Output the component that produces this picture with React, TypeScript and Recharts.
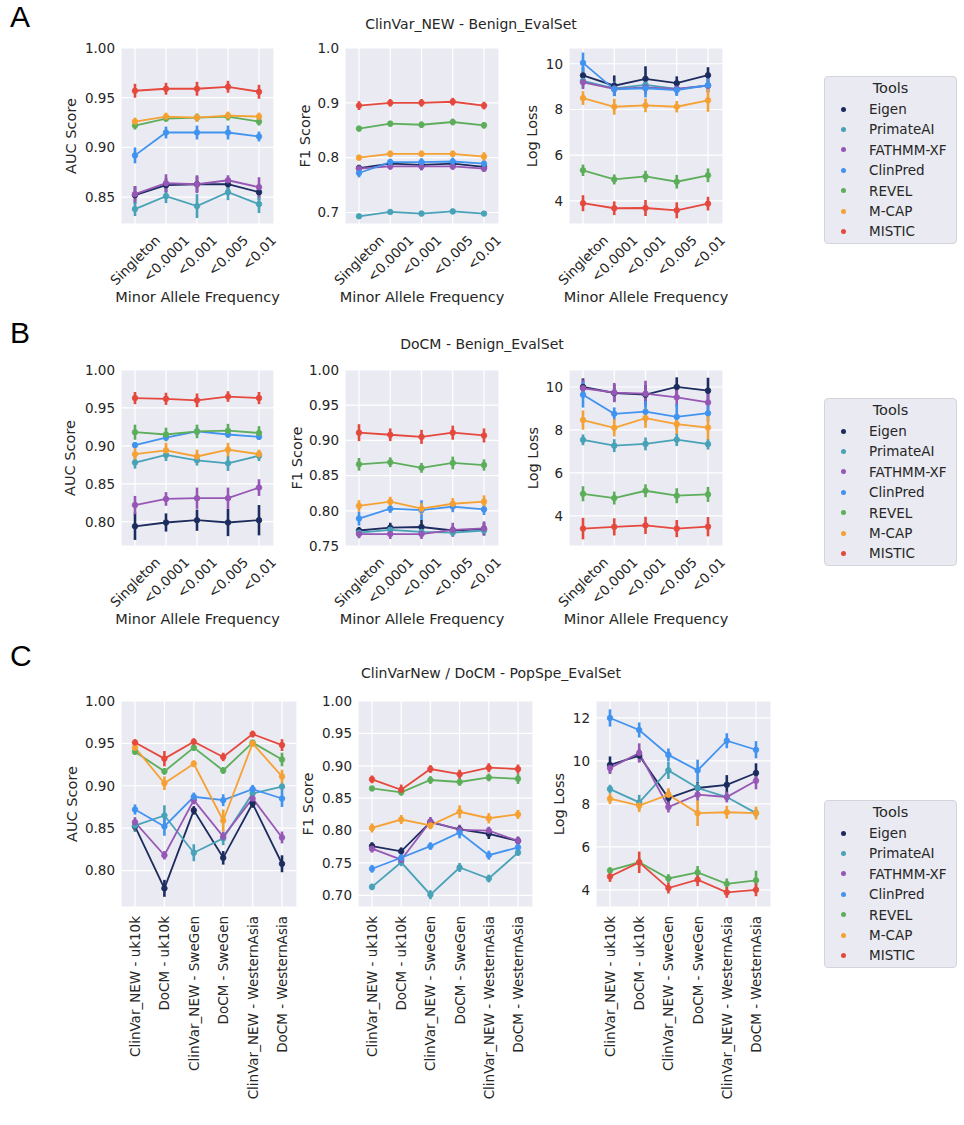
import React from 'react';
import { LineChart, Line, XAxis, YAxis, CartesianGrid, ErrorBar } from 'recharts';

const tools = ['Eigen', 'PrimateAI', 'FATHMM-XF', 'ClinPred', 'REVEL', 'M-CAP', 'MISTIC'];
const toolColors = ['#1d2c5e', '#48a2b8', '#9657b5', '#4193f0', '#5dae5b', '#f5a133', '#e5493d'];

const mafLabels = ['Singleton', '<0.0001', '<0.001', '<0.005', '<0.01'];
const popLabels = [
  'ClinVar_NEW - uk10k',
  'DoCM - uk10k',
  'ClinVar_NEW - SweGen',
  'DoCM - SweGen',
  'ClinVar_NEW - WesternAsia',
  'DoCM - WesternAsia',
];

// every table below: one row per tool, in the `tools` order
const clinvarAuc = [
  [0.852, 0.862, 0.863, 0.863, 0.855],
  [0.838, 0.851, 0.841, 0.855, 0.843],
  [0.853, 0.864, 0.863, 0.867, 0.86],
  [0.892, 0.915, 0.915, 0.915, 0.911],
  [0.922, 0.929, 0.93, 0.931, 0.926],
  [0.926, 0.931, 0.93, 0.932, 0.931],
  [0.957, 0.959, 0.959, 0.961, 0.956],
];
const clinvarAucErr = [
  [0.009, 0.007, 0.008, 0.006, 0.008],
  [0.007, 0.007, 0.012, 0.008, 0.009],
  [0.008, 0.009, 0.009, 0.005, 0.01],
  [0.008, 0.006, 0.007, 0.007, 0.005],
  [0.004, 0.003, 0.004, 0.004, 0.004],
  [0.004, 0.004, 0.004, 0.004, 0.004],
  [0.007, 0.006, 0.007, 0.006, 0.007],
];
const clinvarF1 = [
  [0.781, 0.789, 0.787, 0.789, 0.783],
  [0.693, 0.701, 0.698, 0.702, 0.698],
  [0.78, 0.784, 0.784, 0.784, 0.78],
  [0.772, 0.792, 0.792, 0.793, 0.789],
  [0.853, 0.862, 0.86, 0.865, 0.859],
  [0.8, 0.807, 0.807, 0.807, 0.802],
  [0.895, 0.9, 0.9, 0.902, 0.895],
];
const clinvarF1Err = [
  [0.006, 0.008, 0.01, 0.006, 0.008],
  [0.004, 0.004, 0.005, 0.004, 0.004],
  [0.006, 0.006, 0.006, 0.006, 0.006],
  [0.008, 0.006, 0.007, 0.007, 0.006],
  [0.005, 0.005, 0.006, 0.006, 0.006],
  [0.005, 0.006, 0.006, 0.006, 0.008],
  [0.008, 0.007, 0.007, 0.007, 0.007],
];
const clinvarLoss = [
  [9.49, 9.04, 9.34, 9.15, 9.5],
  [9.25, 8.92, 9.08, 8.9, 9.05],
  [9.19, 8.9, 8.97, 8.9, 9.04],
  [10.04, 8.88, 8.93, 8.85, 9.06],
  [5.34, 4.94, 5.07, 4.84, 5.12],
  [8.5, 8.12, 8.18, 8.12, 8.4],
  [3.9, 3.68, 3.69, 3.59, 3.88],
];
const clinvarLossErr = [
  [0.35, 0.45, 0.55, 0.3, 0.35],
  [0.3, 0.3, 0.3, 0.3, 0.3],
  [0.3, 0.3, 0.3, 0.25, 0.3],
  [0.45, 0.3, 0.4, 0.25, 0.3],
  [0.25, 0.22, 0.25, 0.3, 0.3],
  [0.3, 0.35, 0.3, 0.25, 0.5],
  [0.35, 0.3, 0.35, 0.35, 0.3],
];

const docmAuc = [
  [0.794, 0.799, 0.802, 0.799, 0.802],
  [0.878, 0.888, 0.881, 0.877, 0.887],
  [0.822, 0.83, 0.831, 0.831, 0.845],
  [0.901, 0.911, 0.919, 0.915, 0.912],
  [0.918, 0.915, 0.919, 0.92, 0.917],
  [0.889, 0.894, 0.886, 0.895, 0.889],
  [0.963, 0.962, 0.96, 0.965, 0.963],
];
const docmAucErr = [
  [0.018, 0.012, 0.014, 0.018, 0.02],
  [0.008, 0.008, 0.007, 0.01, 0.007],
  [0.012, 0.009, 0.014, 0.014, 0.011],
  [0.004, 0.004, 0.005, 0.004, 0.004],
  [0.01, 0.009, 0.009, 0.009, 0.009],
  [0.008, 0.01, 0.009, 0.009, 0.006],
  [0.008, 0.008, 0.009, 0.007, 0.008],
];
const docmF1 = [
  [0.772, 0.776, 0.777, 0.772, 0.774],
  [0.769, 0.773, 0.77, 0.769, 0.772],
  [0.767, 0.767, 0.767, 0.773, 0.775],
  [0.789, 0.803, 0.801, 0.806, 0.802],
  [0.866, 0.869, 0.861, 0.868, 0.865],
  [0.807, 0.813, 0.803, 0.81, 0.813],
  [0.911, 0.908, 0.905, 0.911, 0.907],
];
const docmF1Err = [
  [0.005, 0.007, 0.01, 0.006, 0.009],
  [0.004, 0.004, 0.004, 0.004, 0.004],
  [0.006, 0.007, 0.007, 0.01, 0.01],
  [0.01, 0.006, 0.014, 0.008, 0.008],
  [0.009, 0.007, 0.007, 0.009, 0.008],
  [0.008, 0.007, 0.008, 0.008, 0.009],
  [0.012, 0.009, 0.01, 0.01, 0.01],
];
const docmLoss = [
  [10.0, 9.72, 9.64, 10.0, 9.83],
  [7.54, 7.27, 7.35, 7.55, 7.34],
  [9.94, 9.74, 9.69, 9.52, 9.28],
  [9.64, 8.75, 8.85, 8.61, 8.78],
  [5.03, 4.83, 5.17, 4.94, 5.0],
  [8.46, 8.1, 8.55, 8.27, 8.11],
  [3.41, 3.49, 3.56, 3.41, 3.5],
];
const docmLossErr = [
  [0.4, 0.4, 0.45, 0.45, 0.6],
  [0.25, 0.3, 0.3, 0.3, 0.25],
  [0.4, 0.45, 0.6, 0.45, 0.4],
  [0.6, 0.3, 0.5, 0.6, 0.4],
  [0.35, 0.3, 0.3, 0.35, 0.35],
  [0.45, 0.4, 0.45, 0.45, 0.55],
  [0.5, 0.4, 0.4, 0.4, 0.45],
];

const popAuc = [
  [0.852, 0.779, 0.871, 0.815, 0.879, 0.808],
  [0.853, 0.865, 0.821, 0.838, 0.891, 0.899],
  [0.857, 0.818, 0.883, 0.84, 0.885, 0.839],
  [0.872, 0.852, 0.887, 0.883, 0.896, 0.885],
  [0.94, 0.917, 0.945, 0.918, 0.951, 0.931],
  [0.945, 0.903, 0.926, 0.859, 0.95, 0.911],
  [0.951, 0.932, 0.952, 0.934, 0.961, 0.948],
];
const popAucErr = [
  [0.006, 0.01, 0.005, 0.008, 0.005, 0.01],
  [0.006, 0.012, 0.01, 0.008, 0.004, 0.004],
  [0.006, 0.005, 0.005, 0.005, 0.004, 0.007],
  [0.006, 0.011, 0.005, 0.007, 0.005, 0.01],
  [0.003, 0.004, 0.004, 0.004, 0.003, 0.008],
  [0.004, 0.008, 0.004, 0.013, 0.004, 0.008],
  [0.004, 0.009, 0.004, 0.005, 0.004, 0.007],
];
const popF1 = [
  [0.776, 0.768, 0.813, 0.802, 0.795, 0.784],
  [0.713, 0.751, 0.701, 0.743, 0.726, 0.766],
  [0.772, 0.755, 0.814, 0.801, 0.8, 0.784],
  [0.741, 0.758, 0.776, 0.797, 0.762, 0.774],
  [0.865, 0.859, 0.878, 0.875, 0.882, 0.88],
  [0.804, 0.817, 0.808, 0.829, 0.819, 0.825],
  [0.879, 0.863, 0.895, 0.887, 0.897, 0.895],
];
const popF1Err = [
  [0.006, 0.006, 0.006, 0.006, 0.008, 0.006],
  [0.005, 0.006, 0.007, 0.007, 0.006, 0.005],
  [0.006, 0.004, 0.007, 0.008, 0.006, 0.007],
  [0.006, 0.006, 0.006, 0.009, 0.007, 0.005],
  [0.004, 0.005, 0.006, 0.006, 0.006, 0.008],
  [0.007, 0.007, 0.006, 0.01, 0.008, 0.007],
  [0.006, 0.008, 0.006, 0.007, 0.007, 0.007],
];
const popLoss = [
  [9.81, 10.25, 8.27, 8.74, 8.89, 9.44],
  [8.69, 8.07, 9.56, 8.74, 8.32, 7.57],
  [9.67, 10.37, 7.85, 8.43, 8.32, 9.08],
  [12.0, 11.44, 10.28, 9.56, 10.94, 10.52],
  [4.9, 5.28, 4.53, 4.81, 4.28, 4.44],
  [8.24, 7.92, 8.43, 7.57, 7.61, 7.57],
  [4.62, 5.28, 4.08, 4.47, 3.88, 4.0],
];
const popLossErr = [
  [0.4, 0.3, 0.35, 0.3, 0.45, 0.45],
  [0.2, 0.35, 0.4, 0.25, 0.2, 0.2],
  [0.25, 0.45, 0.25, 0.3, 0.25, 0.4],
  [0.4, 0.35, 0.3, 0.5, 0.35, 0.4],
  [0.15, 0.2, 0.2, 0.3, 0.25, 0.45],
  [0.25, 0.3, 0.3, 0.6, 0.3, 0.3],
  [0.25, 0.5, 0.25, 0.3, 0.25, 0.3],
];

const FONT = '"DejaVu Sans", sans-serif';
const INK = '#262626';
const PANEL_BG = '#eaeaf2';

// space reserved round each plot area inside its chart
const L = 72;
const T = 8;
const R = 8;

let measureCtx: CanvasRenderingContext2D | null = null;
const textWidth = (s: string, size: number) => {
  if (!measureCtx) {
    measureCtx = document.createElement('canvas').getContext('2d');
  }
  if (!measureCtx) return s.length * size * 0.6;
  measureCtx.font = `${size}px "DejaVu Sans"`;
  return measureCtx.measureText(s).width;
};

const buildRows = (labels: string[], values: number[][], errs: number[][]) =>
  labels.map((cat, i) => {
    const row: Record<string, any> = { cat };
    tools.forEach((_, k) => {
      row[`s${k}`] = values[k][i];
      row[`e${k}`] = errs[k][i];
    });
    return row;
  });

const YLab = ({ lx, ly, txt }: any) => (
  <text
    x={lx}
    y={ly}
    transform={`rotate(-90 ${lx} ${ly})`}
    textAnchor="middle"
    dominantBaseline="central"
    fill={INK}
    fontSize={14.5}
    fontFamily={FONT}
  >
    {txt}
  </text>
);

const XLab = ({ lx, ly, txt }: any) => (
  <text x={lx} y={ly} textAnchor="middle" dominantBaseline="central" fill={INK} fontSize={14.5} fontFamily={FONT}>
    {txt}
  </text>
);

const makeXTick = (vertical: boolean, y0: number) => (props: any) => {
  const { x, payload } = props;
  const label = String(payload.value);
  if (vertical) {
    return (
      <text
        x={x}
        y={y0}
        transform={`rotate(-90 ${x} ${y0})`}
        textAnchor="end"
        dominantBaseline="central"
        fill={INK}
        fontSize={13.5}
        fontFamily={FONT}
      >
        {label}
      </text>
    );
  }
  // 45 degree label whose bounding box is centred under the tick
  const cy = y0 + 0.3536 * (textWidth(label, 13.5) + 13);
  return (
    <text
      x={x}
      y={cy}
      transform={`rotate(-45 ${x} ${cy})`}
      textAnchor="middle"
      dominantBaseline="central"
      fill={INK}
      fontSize={13.5}
      fontFamily={FONT}
    >
      {label}
    </text>
  );
};

interface PanelProps {
  labels: string[];
  values: number[][];
  errs: number[][];
  plot: { x: number; y: number; w: number; h: number };
  domain: [number, number];
  ticks: number[];
  digits: number;
  yLabel: string;
  yLabelGap: number;
  vertical?: boolean;
}

const Panel: React.FC<PanelProps> = ({ labels, values, errs, plot, domain, ticks, digits, yLabel, yLabelGap, vertical = false }) => {
  const bottom = vertical ? 210 : 90;
  const rows = buildRows(labels, values, errs);
  return (
    <div style={{ position: 'absolute', left: plot.x - L, top: plot.y - T }}>
      <LineChart
        width={plot.w + L + R}
        height={plot.h + T + bottom}
        data={rows}
        margin={{ top: T, right: R, left: 0, bottom: 0 }}
      >
        <CartesianGrid fill={PANEL_BG} fillOpacity={1} stroke="#ffffff" strokeWidth={1.2} />
        <XAxis
          dataKey="cat"
          type="category"
          interval={0}
          height={bottom}
          padding={{ left: 14, right: 15 }}
          tickLine={false}
          axisLine={false}
          tick={makeXTick(vertical, T + plot.h + 9)}
          label={vertical ? undefined : <XLab lx={L + plot.w / 2} ly={T + plot.h + 73} txt="Minor Allele Frequency" />}
        />
        <YAxis
          type="number"
          width={L}
          domain={domain}
          ticks={ticks}
          allowDataOverflow
          tickLine={false}
          axisLine={false}
          tickSize={0}
          tickMargin={6}
          tickFormatter={(v: number) => v.toFixed(digits)}
          tick={{ fill: INK, fontSize: 13.5, fontFamily: FONT }}
          label={<YLab lx={L - yLabelGap} ly={T + plot.h / 2} txt={yLabel} />}
        />
        {tools.map((t, k) => (
          <Line
            key={t}
            name={t}
            dataKey={`s${k}`}
            type="linear"
            stroke={toolColors[k]}
            strokeWidth={1.8}
            dot={{ r: 2.8, fill: toolColors[k], stroke: toolColors[k], strokeWidth: 0.8 }}
            activeDot={false}
            isAnimationActive={false}
          >
            <ErrorBar
              dataKey={`e${k}`}
              direction="y"
              width={0}
              stroke={toolColors[k]}
              strokeWidth={2.6}
              isAnimationActive={false}
            />
          </Line>
        ))}
      </LineChart>
    </div>
  );
};

const ToolLegend: React.FC<{ top: number }> = ({ top }) => (
  <div
    style={{
      position: 'absolute',
      left: 824,
      top,
      width: 133,
      height: 168,
      boxSizing: 'border-box',
      background: PANEL_BG,
      border: '1px solid #d4d4dc',
      borderRadius: 4,
      fontFamily: FONT,
      color: INK,
    }}
  >
    <div style={{ position: 'absolute', top: 1, width: '100%', textAlign: 'center', fontSize: 14.5, lineHeight: '20px' }}>
      Tools
    </div>
    {tools.map((t, i) => (
      <div key={t} style={{ position: 'absolute', left: 0, top: 22 + i * 20.4, height: 20, width: '100%' }}>
        <span
          style={{
            position: 'absolute',
            left: 16,
            top: 7.5,
            width: 5,
            height: 5,
            borderRadius: '50%',
            background: toolColors[i],
          }}
        />
        <span style={{ position: 'absolute', left: 44, top: 0, fontSize: 13.5, lineHeight: '20px', whiteSpace: 'nowrap' }}>{t}</span>
      </div>
    ))}
  </div>
);

const RowTitle: React.FC<{ cx: number; cy: number; text: string }> = ({ cx, cy, text }) => (
  <div
    style={{
      position: 'absolute',
      left: cx - 200,
      top: cy - 10,
      width: 400,
      textAlign: 'center',
      fontFamily: FONT,
      fontSize: 14,
      lineHeight: '20px',
      color: INK,
      whiteSpace: 'nowrap',
    }}
  >
    {text}
  </div>
);

// panel letters; with a normal line height the capital's top sits ~6px below the box top
const Letter: React.FC<{ top: number; text: string }> = ({ top, text }) => (
  <div
    style={{
      position: 'absolute',
      left: 10,
      top,
      fontFamily: '"Liberation Sans", sans-serif',
      fontSize: 30,
      lineHeight: 'normal',
      color: '#000',
    }}
  >
    {text}
  </div>
);

const rowAPlots = [
  { x: 121, y: 48, w: 153, h: 176 },
  { x: 345, y: 48, w: 154, h: 176 },
  { x: 569, y: 48, w: 154, h: 176 },
];
const rowBPlots = [
  { x: 121, y: 370, w: 153, h: 176 },
  { x: 345, y: 370, w: 154, h: 176 },
  { x: 569, y: 370, w: 154, h: 176 },
];
const rowCPlots = [
  { x: 121, y: 701, w: 176, h: 206 },
  { x: 358, y: 701, w: 175, h: 206 },
  { x: 596, y: 701, w: 175, h: 206 },
];

export default function App() {
  return (
    <div style={{ position: 'absolute', left: 0, top: 0, width: 964, height: 1125, background: '#fff', overflow: 'hidden' }}>
      <Letter top={0} text="A" />
      <RowTitle cx={471} cy={24} text="ClinVar_NEW - Benign_EvalSet" />
      <Panel labels={mafLabels} values={clinvarAuc} errs={clinvarAucErr} plot={rowAPlots[0]} domain={[0.823, 1.0]} ticks={[0.85, 0.9, 0.95, 1.0]} digits={2} yLabel="AUC Score" yLabelGap={50} />
      <Panel labels={mafLabels} values={clinvarF1} errs={clinvarF1Err} plot={rowAPlots[1]} domain={[0.679, 1.0]} ticks={[0.7, 0.8, 0.9, 1.0]} digits={1} yLabel="F1 Score" yLabelGap={40} />
      <Panel labels={mafLabels} values={clinvarLoss} errs={clinvarLossErr} plot={rowAPlots[2]} domain={[2.99, 10.69]} ticks={[4, 6, 8, 10]} digits={0} yLabel="Log Loss" yLabelGap={37} />
      <ToolLegend top={76} />

      <Letter top={316} text="B" />
      <RowTitle cx={482} cy={344} text="DoCM - Benign_EvalSet" />
      <Panel labels={mafLabels} values={docmAuc} errs={docmAucErr} plot={rowBPlots[0]} domain={[0.768, 1.0]} ticks={[0.8, 0.85, 0.9, 0.95, 1.0]} digits={2} yLabel="AUC Score" yLabelGap={51} />
      <Panel labels={mafLabels} values={docmF1} errs={docmF1Err} plot={rowBPlots[1]} domain={[0.75, 1.0]} ticks={[0.75, 0.8, 0.85, 0.9, 0.95, 1.0]} digits={2} yLabel="F1 Score" yLabelGap={48} />
      <Panel labels={mafLabels} values={docmLoss} errs={docmLossErr} plot={rowBPlots[2]} domain={[2.6, 10.79]} ticks={[4, 6, 8, 10]} digits={0} yLabel="Log Loss" yLabelGap={36} />
      <ToolLegend top={398} />

      <Letter top={639} text="C" />
      <RowTitle cx={491} cy={673} text="ClinVarNew / DoCM - PopSpe_EvalSet" />
      <Panel labels={popLabels} values={popAuc} errs={popAucErr} plot={rowCPlots[0]} domain={[0.757, 1.0]} ticks={[0.8, 0.85, 0.9, 0.95, 1.0]} digits={2} yLabel="AUC Score" yLabelGap={49} vertical />
      <Panel labels={popLabels} values={popF1} errs={popF1Err} plot={rowCPlots[1]} domain={[0.682, 1.0]} ticks={[0.7, 0.75, 0.8, 0.85, 0.9, 0.95, 1.0]} digits={2} yLabel="F1 Score" yLabelGap={50} vertical />
      <Panel labels={popLabels} values={popLoss} errs={popLossErr} plot={rowCPlots[2]} domain={[3.2, 12.79]} ticks={[4, 6, 8, 10, 12]} digits={0} yLabel="Log Loss" yLabelGap={37} vertical />
      <ToolLegend top={800} />
    </div>
  );
}
